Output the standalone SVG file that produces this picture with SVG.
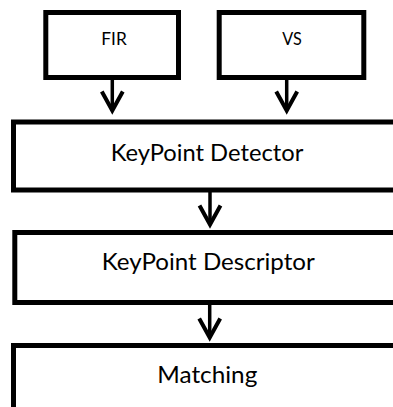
<svg xmlns="http://www.w3.org/2000/svg" width="393" height="407" viewBox="0 0 393 407">
<style>
.box{fill:#fff;stroke:#000;stroke-width:5}
.lbl{font-family:Lato,"Liberation Sans",sans-serif;fill:#000;text-anchor:middle}
.big{font-size:24px}
.small{font-size:18px}
.conn{stroke:#000;stroke-width:3.5;fill:none}
</style>
<defs>
<marker id="arr" markerUnits="userSpaceOnUse" orient="auto" refX="0" refY="0" markerWidth="30" markerHeight="30" viewBox="-25 -15 30 30" overflow="visible">
<path d="M-19,-10.5 L0,0 L-19,10.5" fill="none" stroke="#000" stroke-width="4" stroke-linejoin="miter"/>
</marker>
</defs>
<rect width="393" height="407" fill="#fff"/>
<g id="connectors">
<line class="conn" x1="112.3" y1="80" x2="112.3" y2="110.5" marker-end="url(#arr)"/>
<line class="conn" x1="286.7" y1="80" x2="286.7" y2="110.5" marker-end="url(#arr)"/>
<line class="conn" x1="210" y1="192" x2="210" y2="224.5" marker-end="url(#arr)"/>
<line class="conn" x1="209.7" y1="305" x2="209.7" y2="337.5" marker-end="url(#arr)"/>
</g>
<g id="fir">
<rect class="box" x="45.8" y="12.5" width="132.7" height="65"/>
<text class="lbl small" x="114" y="45" textLength="25.5" lengthAdjust="spacingAndGlyphs">FIR</text>
</g>
<g id="vs">
<rect class="box" x="219.2" y="12.5" width="144.6" height="65"/>
<text class="lbl small" x="292" y="45" textLength="19.5" lengthAdjust="spacingAndGlyphs">VS</text>
</g>
<g id="detector">
<rect class="box" x="13.5" y="122" width="388" height="68"/>
<text class="lbl big" x="207" y="161" textLength="192.6" lengthAdjust="spacingAndGlyphs">KeyPoint Detector</text>
</g>
<g id="descriptor">
<rect class="box" x="14.8" y="232.5" width="388" height="70"/>
<text class="lbl big" x="208.3" y="270" textLength="213" lengthAdjust="spacingAndGlyphs">KeyPoint Descriptor</text>
</g>
<g id="matching">
<rect class="box" x="13.5" y="345.5" width="388" height="64"/>
<text class="lbl big" x="207.3" y="383.3" textLength="100" lengthAdjust="spacingAndGlyphs">Matching</text>
</g>
</svg>
